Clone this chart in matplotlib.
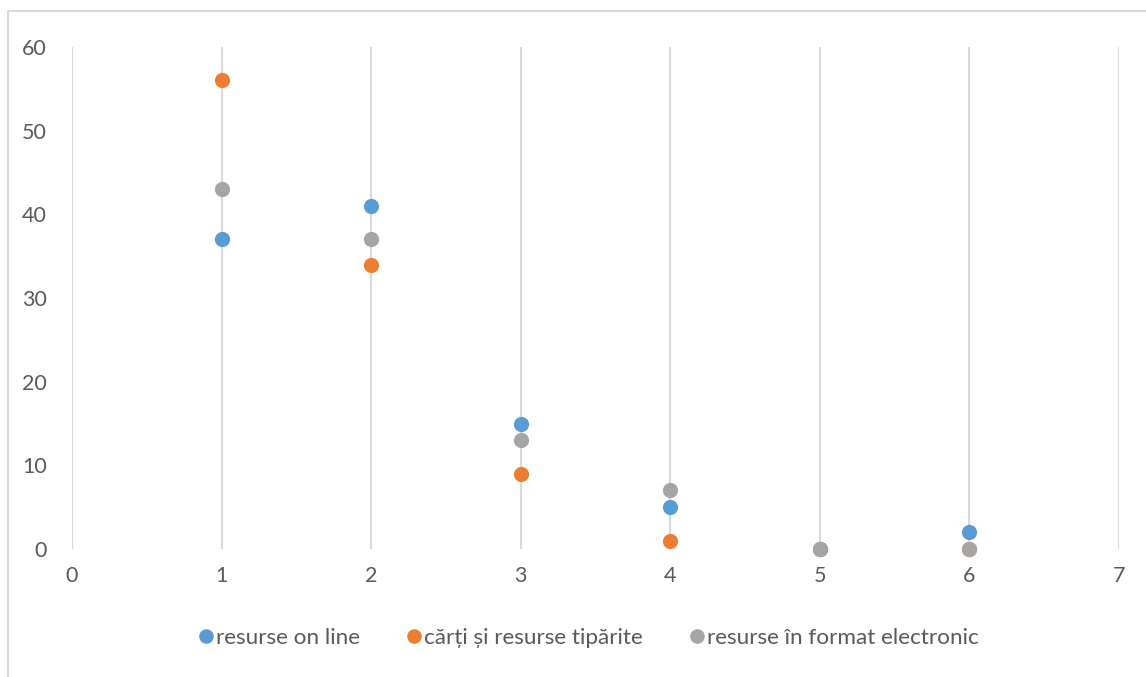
import matplotlib.pyplot as plt
from matplotlib.lines import Line2D

x = [1, 2, 3, 4, 5, 6]
online = [37, 41, 15, 5, 0, 2]
tiparite = [56, 34, 9, 1, 0, 0]
electronic = [43, 37, 13, 7, 0, 0]

series = [
    ("resurse on line", online, "#5B9BD5"),
    ("cărți și resurse tipărite", tiparite, "#ED7D31"),
    ("resurse în format electronic", electronic, "#A5A5A5"),
]

plt.rcParams["font.family"] = ["Lato", "DejaVu Sans"]

fig = plt.figure(figsize=(11.46, 6.77), dpi=100)
ax = fig.add_axes([0.0628, 0.189, 0.9136, 0.7416])

for name, vals, color in series:
    ax.scatter(x, vals, s=120, color=color, label=name, zorder=3,
               linewidths=0, clip_on=False)

ax.set_xlim(0, 7)
ax.set_ylim(0, 60)
ax.set_xticks(range(0, 8))
ax.set_yticks(range(0, 61, 10))
ax.grid(axis="x", color="#D9D9D9", linewidth=1.5, zorder=0)
ax.set_axisbelow(True)
for s in ax.spines.values():
    s.set_visible(False)
ax.tick_params(length=0, labelsize=15.5, labelcolor="#595959")
ax.tick_params(axis="x", pad=12)
ax.tick_params(axis="y", pad=18)

handles = [Line2D([], [], marker="o", linestyle="", markersize=10.5,
                  markerfacecolor=c, markeredgewidth=0) for _, _, c in series]
fig.legend(handles, [n for n, _, _ in series], loc="center",
           bbox_to_anchor=(0.513, 0.058), ncol=3, frameon=False, fontsize=16.2,
           labelcolor="#595959", handletextpad=0.05, columnspacing=2.0,
           handlelength=0.8)

# chart border
fig.add_artist(Line2D([8 / 1146, 8 / 1146], [0, 1 - 11 / 677],
                      color="#D9D9D9", linewidth=1.5, transform=fig.transFigure))
fig.add_artist(Line2D([8 / 1146, 1], [1 - 11 / 677, 1 - 11 / 677],
                      color="#D9D9D9", linewidth=1.5, transform=fig.transFigure))

fig.savefig("out.png", dpi=100, facecolor="white")
